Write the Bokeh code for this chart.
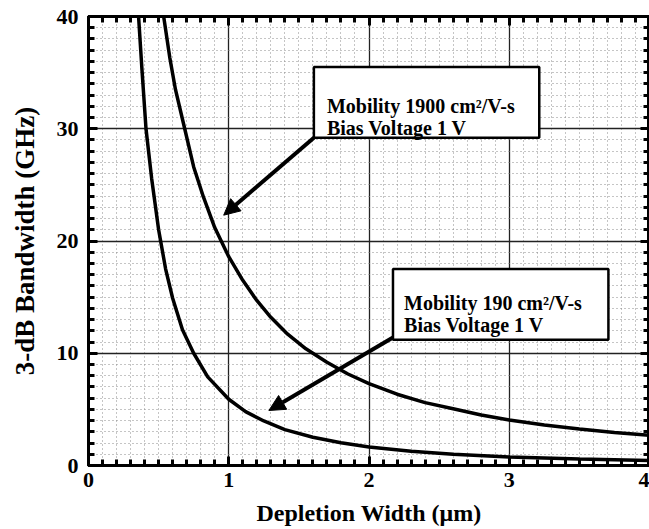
from bokeh.plotting import figure
from bokeh.models import (LinearAxis, SingleIntervalTicker, Range1d, Arrow, NormalHead,
                          BoxAnnotation, Label)
from bokeh.embed import file_html
from bokeh.resources import INLINE

# Depletion width (um) vs 3-dB bandwidth (GHz)
w_high = [0.536, 0.58, 0.62, 0.686, 0.75, 0.82, 0.90, 1.0, 1.1, 1.2, 1.3, 1.42, 1.55, 1.7, 1.85,
          2.0, 2.2, 2.4, 2.6, 2.8, 3.0, 3.25, 3.5, 3.75, 4.0]
f_high = [40.0, 36.3, 33.5, 30.0, 26.6, 23.9, 21.2, 18.6, 16.5, 14.7, 13.2, 11.7, 10.4, 9.2, 8.15,
          7.3, 6.35, 5.6, 5.05, 4.5, 4.05, 3.6, 3.25, 2.95, 2.7]

w_low = [0.357, 0.38, 0.41, 0.45, 0.50, 0.55, 0.60, 0.67, 0.75, 0.85, 1.0, 1.12, 1.25, 1.4, 1.6,
         1.8, 2.0, 2.3, 2.6, 3.0, 3.5, 4.0]
f_low = [40.0, 35.5, 30.0, 25.6, 21.0, 17.5, 14.9, 12.1, 10.0, 7.9, 5.9, 4.8, 3.97, 3.2, 2.52,
         2.02, 1.65, 1.27, 1.0, 0.76, 0.57, 0.44]

label_high = ["Mobility 1900 cm²/V-s", "Bias Voltage 1 V"]
label_low = ["Mobility 190 cm²/V-s", "Bias Voltage 1 V"]

FONT = "Liberation Serif"

p = figure(width=649, height=529, output_backend="svg", toolbar_location=None,
           x_range=Range1d(0, 4), y_range=Range1d(0, 40),
           min_border_left=88, min_border_right=0, min_border_top=16, min_border_bottom=64,
           x_axis_label="Depletion Width (μm)", y_axis_label="3-dB Bandwidth (GHz)")
p.background_fill_color = "white"
p.border_fill_color = "white"
p.outline_line_color = "black"
p.outline_line_width = 3

p.xaxis.ticker = SingleIntervalTicker(interval=1, num_minor_ticks=10)
p.yaxis.ticker = SingleIntervalTicker(interval=10, num_minor_ticks=10)

for ax in list(p.xaxis) + list(p.yaxis):
    ax.axis_line_width = 3
    ax.axis_line_color = "black"
    ax.major_tick_in = 9
    ax.major_tick_out = 0
    ax.minor_tick_in = 6
    ax.minor_tick_out = 0
    ax.major_tick_line_width = 3
    ax.minor_tick_line_width = 3
    ax.major_label_text_font = FONT
    ax.major_label_text_font_style = "bold"
    ax.major_label_text_font_size = "22px"
    ax.major_label_text_color = "black"
    ax.axis_label_text_font = FONT
    ax.axis_label_text_font_style = "bold"
    ax.axis_label_text_color = "black"
p.xaxis.axis_label_text_font_size = "24px"
p.yaxis.axis_label_text_font_size = "27px"
p.xaxis.major_label_standoff = 7
p.xaxis.axis_label_standoff = 10
p.yaxis.major_label_standoff = 10
p.yaxis.axis_label_standoff = 14

for loc, tk in (("above", SingleIntervalTicker(interval=1, num_minor_ticks=10)),
                ("right", SingleIntervalTicker(interval=10, num_minor_ticks=10))):
    ax = LinearAxis(ticker=tk, major_label_text_font_size="0px", major_label_text_color=None,
                    axis_line_width=3,
                    major_tick_in=9, major_tick_out=0, minor_tick_in=6, minor_tick_out=0,
                    major_tick_line_width=3, minor_tick_line_width=3, major_label_standoff=0)
    p.add_layout(ax, loc)

p.xgrid.grid_line_color = "#222222"
p.ygrid.grid_line_color = "#222222"
p.xgrid.grid_line_width = 1.3
p.ygrid.grid_line_width = 1.3
for g in (p.xgrid[0], p.ygrid[0]):
    g.minor_grid_line_color = "#8a8a8a"
    g.minor_grid_line_dash = "1 3"
    g.minor_grid_line_width = 1

p.line(w_high, f_high, line_width=3.5, line_color="black")
p.line(w_low, f_low, line_width=3.5, line_color="black")

# annotation boxes
p.add_layout(BoxAnnotation(left=1.607, right=3.214, bottom=29.2, top=35.5,
                           fill_color="white", fill_alpha=1, line_color="black",
                           line_alpha=1, line_width=2.5))
p.add_layout(BoxAnnotation(left=2.171, right=3.707, bottom=11.2, top=17.5,
                           fill_color="white", fill_alpha=1, line_color="black",
                           line_alpha=1, line_width=2.5))

for i, t in enumerate(label_high):
    p.add_layout(Label(x=1.70, y=[32.0, 30.1][i], text=t, text_font=FONT, text_font_style="bold",
                       text_font_size="20px", text_color="black", text_baseline="alphabetic"))
for i, t in enumerate(label_low):
    p.add_layout(Label(x=2.25, y=[14.5, 12.5][i], text=t, text_font=FONT, text_font_style="bold",
                       text_font_size="20px", text_color="black", text_baseline="alphabetic"))

p.add_layout(Arrow(x_start=1.607, y_start=29.2, x_end=0.964, y_end=22.3, line_width=4,
                   line_color="black",
                   end=NormalHead(size=16, fill_color="black", line_color="black")))
p.add_layout(Arrow(x_start=2.171, y_start=11.4, x_end=1.286, y_end=4.9, line_width=4,
                   line_color="black",
                   end=NormalHead(size=16, fill_color="black", line_color="black")))

open("out.html", "w").write(file_html(p, INLINE))
